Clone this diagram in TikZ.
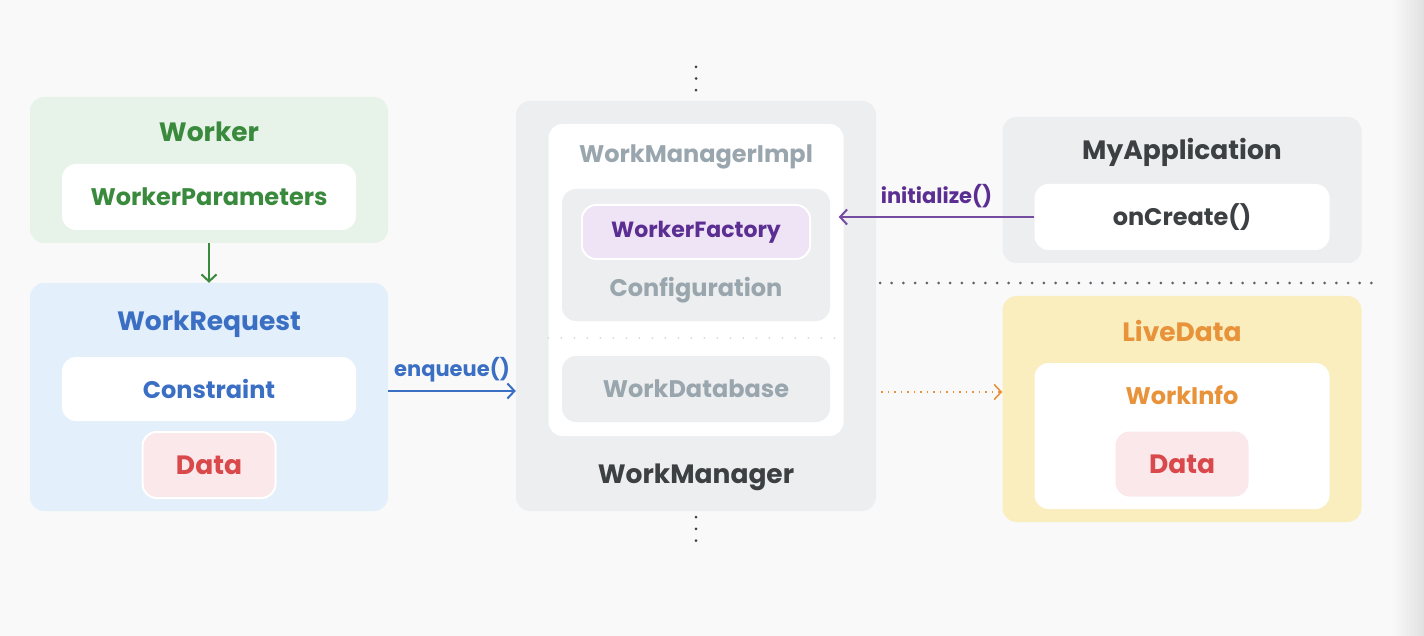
\documentclass[tikz,border=0pt]{standalone}
\usepackage{fontspec}
\setmainfont{Poppins}
\usetikzlibrary{positioning,arrows.meta}

\definecolor{pagebg}{HTML}{F9F9F9}
\definecolor{greenbg}{HTML}{E7F3E8}
\definecolor{greentx}{HTML}{3A8A3E}
\definecolor{bluebg}{HTML}{E3EFFA}
\definecolor{bluetx}{HTML}{3B6FC4}
\definecolor{redbg}{HTML}{FBE8EA}
\definecolor{redtx}{HTML}{D9484A}
\definecolor{greybg}{HTML}{ECEEF0}
\definecolor{darktx}{HTML}{3C4043}
\definecolor{lighttx}{HTML}{9AA6AE}
\definecolor{purplebg}{HTML}{EFE3F6}
\definecolor{purpletx}{HTML}{5B2E92}
\definecolor{yellowbg}{HTML}{FAEDBE}
\definecolor{orangetx}{HTML}{E8923A}
\definecolor{dotgrey}{HTML}{5F6368}

\tikzset{
  >={Straight Barb[length=7pt,width=15pt]},
  box/.style={rounded corners=14pt, inner sep=0pt},
  chip/.style={box, draw=white, line width=2pt},
  label/.style={inner sep=0pt, font=\fontsize{24}{26}\selectfont\bfseries},
  title/.style={label, font=\fontsize{26.5}{28}\selectfont\bfseries},
  call/.style={label, font=\fontsize{21}{23}\selectfont\bfseries},
  dotline/.style={line width=3pt, line cap=round, dash pattern=on 0pt off 11.7pt},
}

\begin{document}
\begin{tikzpicture}[x=1pt,y=-1pt]
  \useasboundingbox (0,0) rectangle (1424,636);
  \fill[pagebg] (0,0) rectangle (1424,636);
  \shade[left color=pagebg, right color=black!12] (1392,0) rectangle (1424,636);

  % Worker
  \node[box, fill=greenbg, minimum width=358pt, minimum height=146pt] (worker) at (209,170) {};
  \node[title, text=greentx] (workertx) at (209,132) {Worker};
  \node[box, fill=white, minimum width=294pt, minimum height=66pt] (params) at (209,197) {};
  \node[label, text=greentx] at (params) {WorkerParameters};

  % WorkRequest
  \node[box, fill=bluebg, minimum width=358pt, minimum height=228pt] (request) at (209,397) {};
  \node[title, text=bluetx] at (209,324) {WorkRequest};
  \node[box, fill=white, minimum width=294pt, minimum height=64pt] (constraint) at (209,389) {};
  \node[label, text=bluetx] at (constraint) {Constraint};
  \node[chip, fill=redbg, minimum width=133pt, minimum height=66pt] (data) at (209,465) {};
  \node[title, text=redtx] at (data) {Data};

  \draw[->, greentx, line width=2pt] (worker.south) -- (request.north);

  % WorkManager
  \node[box, fill=greybg, minimum width=360pt, minimum height=410pt] (manager) at (696,306) {};
  \node[box, fill=white, minimum width=295pt, minimum height=312pt] (impl) at (696,280) {};
  \node[label, text=lighttx] at (696,157) {WorkManagerImpl};
  \node[box, fill=greybg, minimum width=268pt, minimum height=132pt] (config) at (696,255) {};
  \node[chip, fill=purplebg, minimum width=228pt, minimum height=54pt] (factory) at (696,232) {};
  \node[label, text=purpletx, font=\fontsize{22}{24}\selectfont\bfseries] at (factory) {WorkerFactory};
  \node[label, text=lighttx] at (696,290) {Configuration};
  \draw[dotline, black!15, line width=2pt, dash pattern=on 0pt off 13pt] (impl.west |- 0,338) -- (impl.east |- 0,338);
  \node[box, fill=greybg, minimum width=268pt, minimum height=66pt] (dbase) at (696,389) {};
  \node[label, text=lighttx] at (dbase) {WorkDatabase};
  \node[title, text=darktx] at (696,477) {WorkManager};

  \draw[dotline, darktx] (manager.north) ++(0,-34) -- ++(0,28);
  \draw[dotline, darktx] (manager.south) ++(0,6) -- ++(0,28);

  \draw[->, bluetx, line width=2pt] (request.east |- 0,391) -- node[call, text=bluetx, above=8pt] {enqueue()} (manager.west |- 0,391);

  % MyApplication
  \node[box, fill=greybg, minimum width=359pt, minimum height=146pt] (app) at (1182,190) {};
  \node[title, text=darktx] at (1182,152) {MyApplication};
  \node[box, fill=white, minimum width=295pt, minimum height=66pt] (oncreate) at (1182,217) {};
  \node[label, text=darktx] at (oncreate) {onCreate()};

  \draw[->, purpletx!85, line width=2pt] (oncreate.west) -- node[call, text=purpletx, above=8pt] {initialize()} ([xshift=-5pt]impl.east |- oncreate.west);

  % separator
  \coordinate (sepl) at (880,283);
  \coordinate (sepr) at (1376,283);
  \draw[dotline, dotgrey] (sepl) -- (sepr);

  % LiveData
  \node[box, fill=yellowbg, minimum width=359pt, minimum height=226pt] (live) at (1182,409) {};
  \node[title, text=orangetx] at (1182,331) {LiveData};
  \node[box, fill=white, minimum width=295pt, minimum height=146pt] (info) at (1182,436) {};
  \node[label, text=orangetx] at (1182,395) {WorkInfo};
  \node[box, fill=redbg, minimum width=133pt, minimum height=65pt] (data2) at (1182,464) {};
  \node[title, text=redtx] at (data2) {Data};

  \draw[->, orangetx, line width=1.6pt, dash pattern=on 1.5pt off 5pt] (manager.east |- 0,392) ++(5,0) coordinate (obs) -- (live.west |- obs);
\end{tikzpicture}
\end{document}
